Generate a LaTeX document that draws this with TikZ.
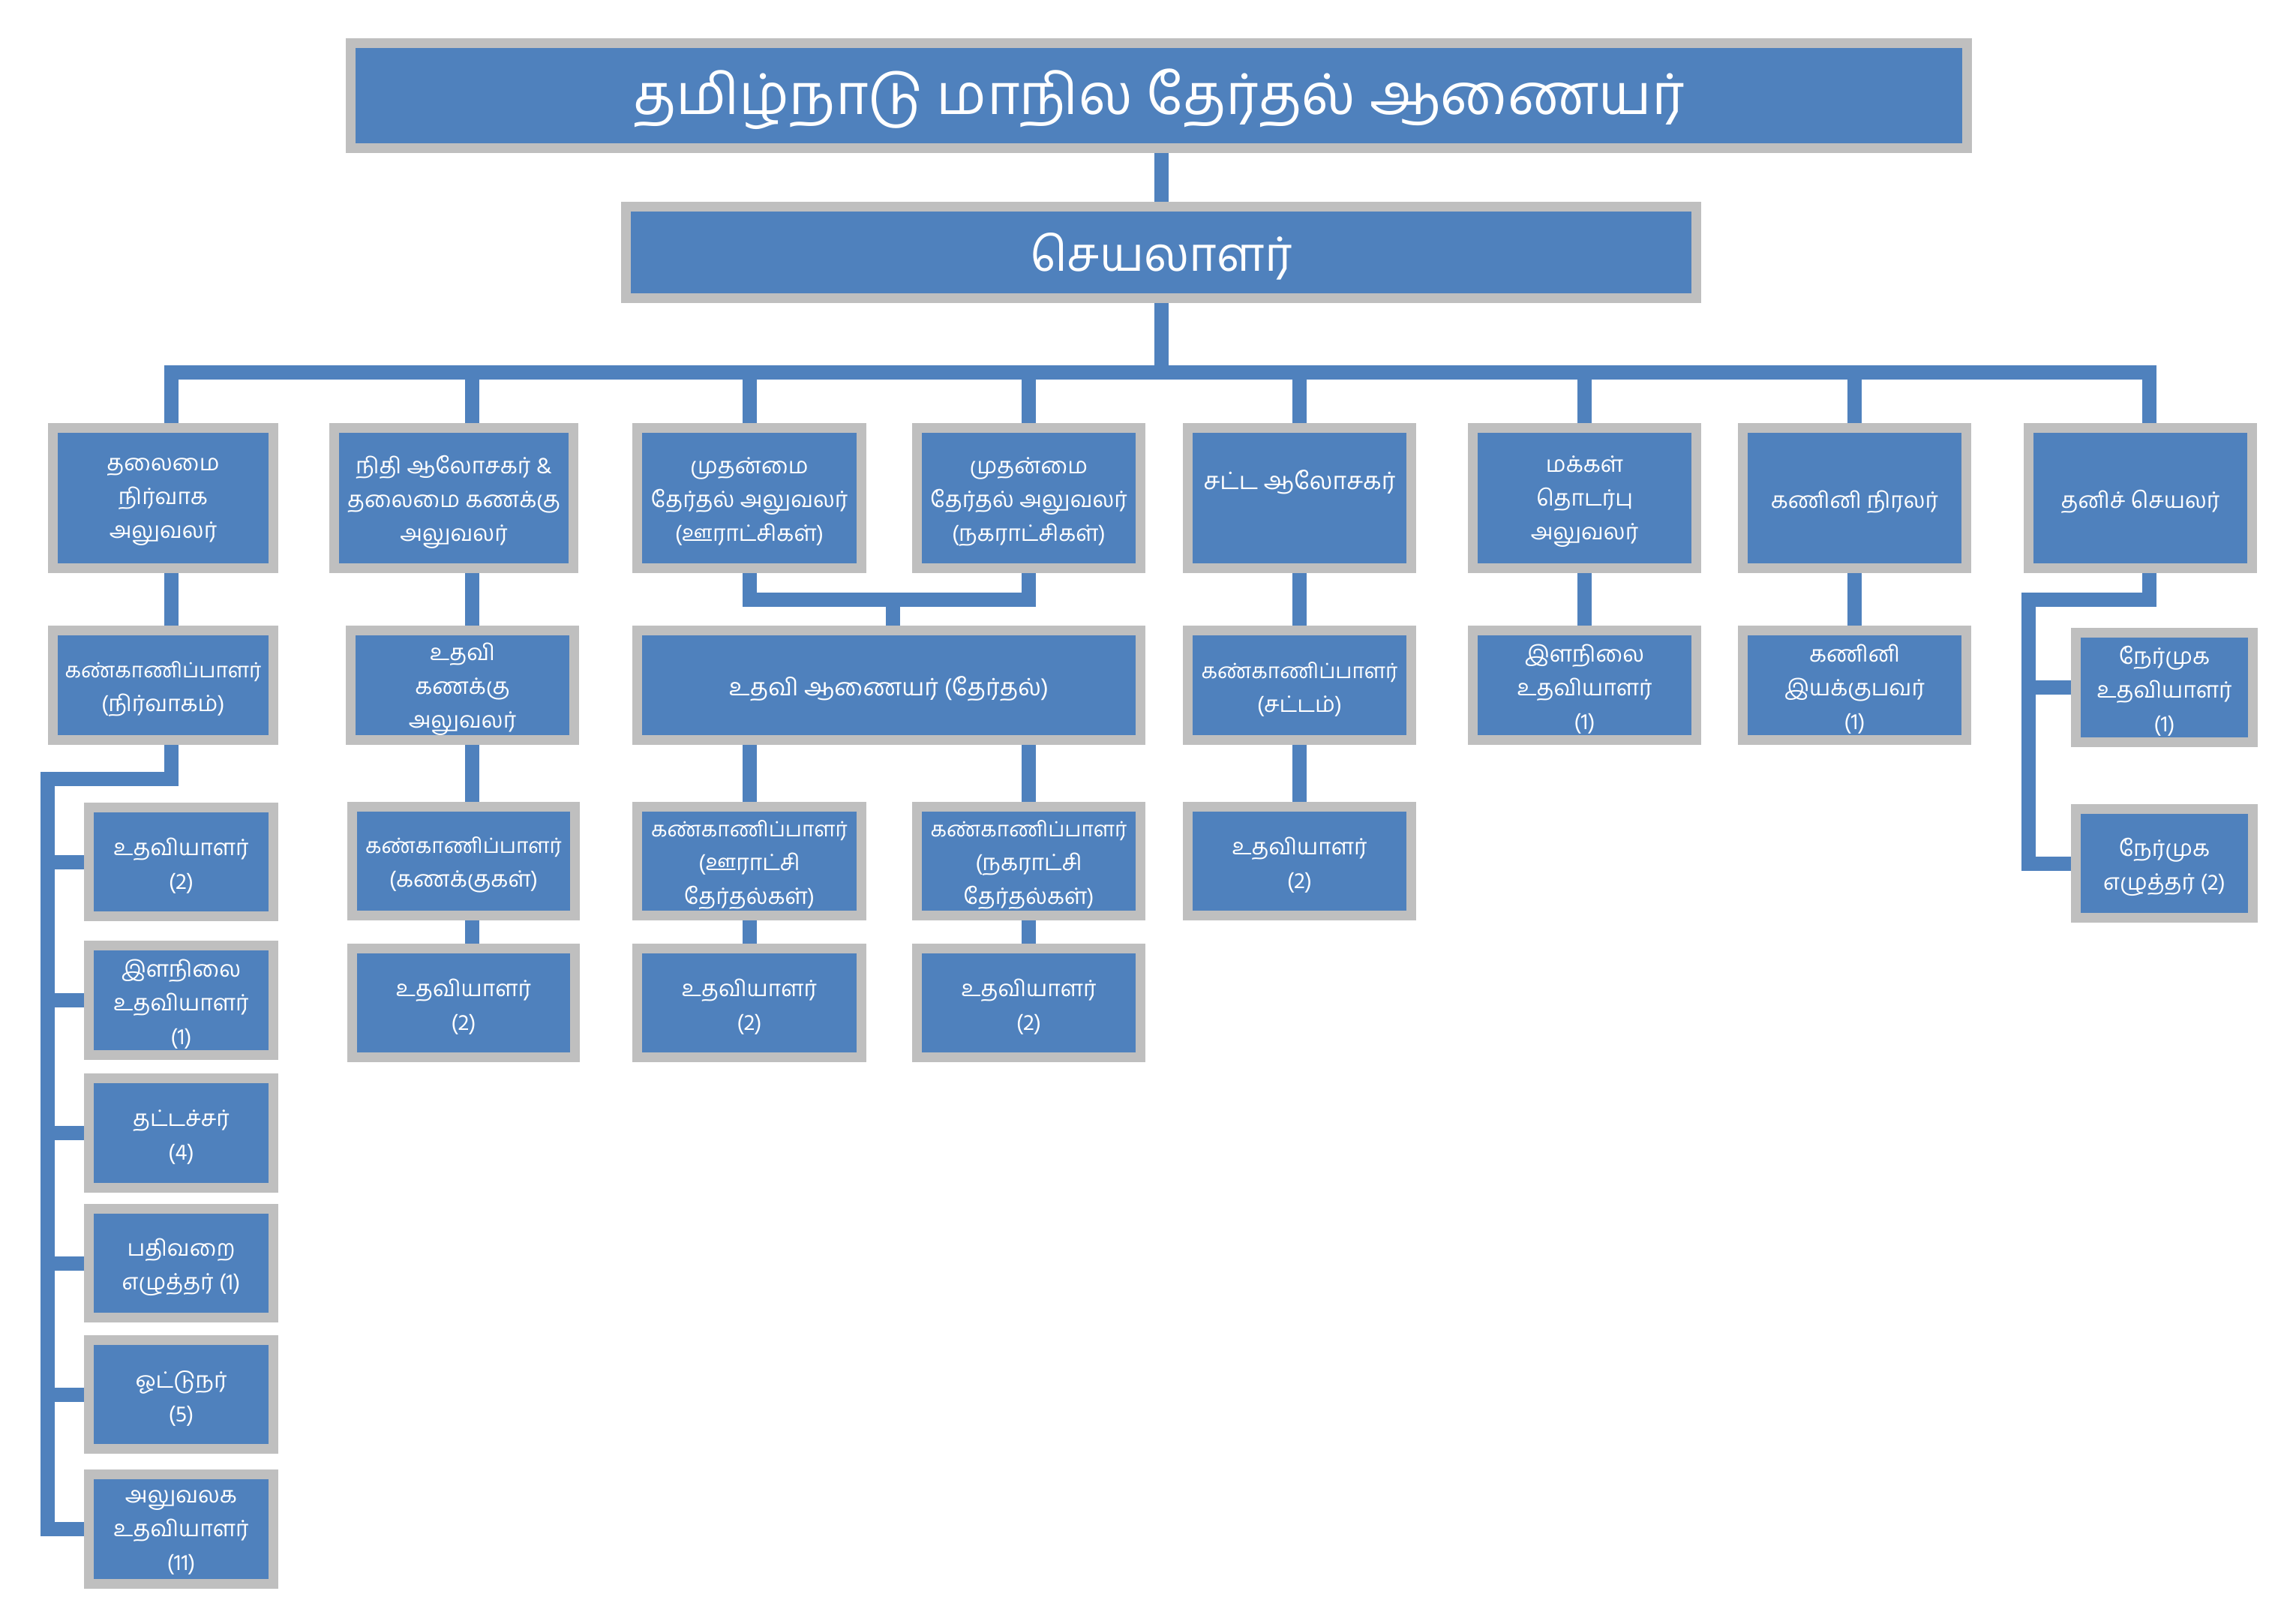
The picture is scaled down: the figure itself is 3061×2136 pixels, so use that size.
\documentclass[tikz,border=0pt]{standalone}
\usepackage{fontspec}
\setmainfont[Script=Tamil]{Hind Madurai}
\definecolor{bblue}{HTML}{4F81BD}
\definecolor{bgray}{HTML}{BFBFBF}
\tikzset{
  box/.style={draw=bgray, fill=bblue, line width=13pt, inner sep=0pt},
  boxtext/.style={text=white, align=center, inner sep=0pt, font=\fontsize{30}{45}\selectfont},
  conn/.style={draw=bblue, line width=19pt},
}
\newcommand\bx[7][]{%
  \node[box,minimum width={#4-#2-13},minimum height={#5-#3-13}] (#6) at ({(#2+#4)/2},{(#3+#5)/2}) {};
  \node[boxtext,#1] (#6-t) at ([yshift=-5pt]#6.center) {#7};}
\newcommand\kg{{\fontsize{28}{45}\selectfont கண்காணிப்பாளர்}}
\begin{document}
\begin{tikzpicture}[x=1pt,y=-1pt]
\useasboundingbox (0,0) rectangle (3061,2136);
% top
\bx[font=\fontsize{75}{90}\selectfont]{461}{51}{2629}{204}{title}{தமிழ்நாடு மாநில தேர்தல் ஆணையர்}
\bx[font=\fontsize{63}{76}\selectfont]{828}{269}{2268}{404}{sec}{செயலாளர்}
% row 1
\bx{64}{564}{371}{764}{b1}{தலைமை\\நிர்வாக\\அலுவலர்}
\bx{439}{564}{771}{764}{b2}{நிதி ஆலோசகர் \&\\தலைமை கணக்கு\\அலுவலர்}
\bx{843}{564}{1155}{764}{b3}{முதன்மை\\தேர்தல் அலுவலர்\\(ஊராட்சிகள்)}
\bx{1216}{564}{1527}{764}{b4}{முதன்மை\\தேர்தல் அலுவலர்\\(நகராட்சிகள்)}
\bx[font=\fontsize{32}{45}\selectfont]{1577}{564}{1888}{764}{b5}{சட்ட ஆலோசகர்\\\strut}
\bx{1957}{564}{2268}{764}{b6}{மக்கள்\\தொடர்பு\\அலுவலர்}
\bx{2317}{564}{2628}{764}{b7}{கணினி நிரலர்}
\bx{2698}{564}{3009}{764}{b8}{தனிச் செயலர்}
% row 2
\bx{64}{834}{371}{993}{kn}{\kg\\(நிர்வாகம்)}
\bx{461}{834}{772}{993}{uk}{உதவி\\கணக்கு\\அலுவலர்}
\bx[font=\fontsize{32}{45}\selectfont]{843}{834}{1527}{993}{aa}{உதவி ஆணையர் (தேர்தல்)}
\bx{1577}{834}{1888}{993}{ks}{\kg\\(சட்டம்)}
\bx{1957}{834}{2268}{993}{il}{இளநிலை\\உதவியாளர்\\(1)}
\bx{2317}{834}{2628}{993}{ki}{கணினி\\இயக்குபவர்\\(1)}
\bx{2761}{837}{3010}{996}{n1}{நேர்முக\\உதவியாளர்\\(1)}
\bx{2761}{1072}{3010}{1230}{n2}{நேர்முக\\எழுத்தர் (2)}
% row 3
\bx{463}{1069}{773}{1227}{kk}{\kg\\(கணக்குகள்)}
\bx{843}{1069}{1155}{1227}{ko}{\kg\\(ஊராட்சி\\தேர்தல்கள்)}
\bx{1216}{1069}{1527}{1227}{kng}{\kg\\(நகராட்சி\\தேர்தல்கள்)}
\bx{1577}{1069}{1888}{1227}{su}{உதவியாளர்\\(2)}
% row 4
\bx{463}{1258}{773}{1416}{ku}{உதவியாளர்\\(2)}
\bx{843}{1258}{1155}{1416}{uo}{உதவியாளர்\\(2)}
\bx{1216}{1258}{1527}{1416}{un}{உதவியாளர்\\(2)}
% left column
\bx{112}{1070}{371}{1228}{l1}{உதவியாளர்\\(2)}
\bx{112}{1254}{371}{1413}{l2}{இளநிலை\\உதவியாளர்\\(1)}
\bx{112}{1431}{371}{1590}{l3}{தட்டச்சர்\\(4)}
\bx{112}{1605}{371}{1763}{l4}{பதிவறை\\எழுத்தர் (1)}
\bx{112}{1780}{371}{1938}{l5}{ஓட்டுநர்\\(5)}
\bx{112}{1959}{371}{2118}{l6}{அலுவலக\\உதவியாளர்\\(11)}
% connector coordinates
\coordinate (bus) at (1552,496);
\coordinate (c1) at (228,0);
\coordinate (c2) at (629,0);
\coordinate (c8) at (2865,0);
\coordinate (jn) at (1190,799);
\coordinate (lc) at (63,1038);
\coordinate (rc) at (2704,799);
% connectors
\draw[conn] (title.south -| sec.north) -- (sec.north);
\draw[conn] (sec.south) -- (sec.south |- bus);
\draw[conn] (b1.north -| c1) |- (bus) -| (b8.north -| c8);
\draw[conn] (b2.north -| c2) -- (bus -| c2);
\foreach \n in {b3,b4,b5,b6,b7} \draw[conn] (\n.north) -- (\n.north |- bus);
% column 1
\draw[conn] (b1.south -| c1) -- (kn.north -| c1);
\draw[conn] (kn.south -| c1) |- (lc) |- (l6.west);
\foreach \n in {l1,l2,l3,l4,l5} \draw[conn] (\n.west) -- (\n.west -| lc);
% column 2
\draw[conn] (b2.south -| c2) -- (uk.north -| c2);
\draw[conn] (uk.south -| c2) -- (kk.north -| c2);
\draw[conn] (kk.south -| c2) -- (ku.north -| c2);
% columns 3-4
\draw[conn] (b3.south) |- (jn) -| (b4.south);
\draw[conn] (jn) -- (aa.north -| jn);
\draw[conn] (aa.south -| ko.north) -- (ko.north);
\draw[conn] (aa.south -| kng.north) -- (kng.north);
\draw[conn] (ko.south) -- (uo.north);
\draw[conn] (kng.south) -- (un.north);
% column 5
\draw[conn] (b5.south) -- (ks.north);
\draw[conn] (ks.south) -- (su.north);
% columns 6-7
\draw[conn] (b6.south) -- (il.north);
\draw[conn] (b7.south) -- (ki.north);
% column 8
\draw[conn] (b8.south -| c8) |- (rc) |- (n2.west);
\draw[conn] (n1.west) -- (n1.west -| rc);
\end{tikzpicture}
\end{document}
